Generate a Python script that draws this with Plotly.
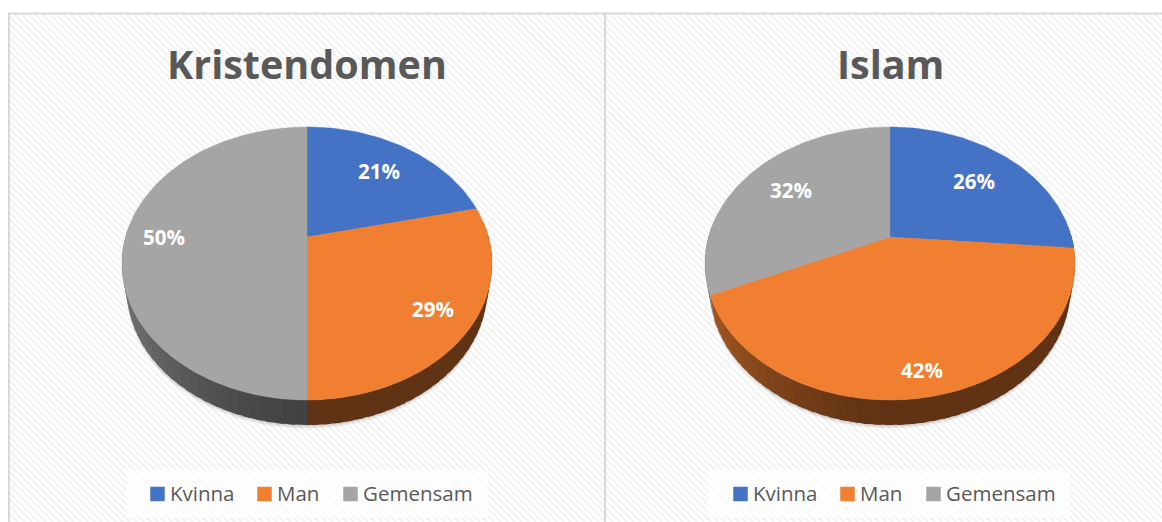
import math
import plotly.graph_objects as go

# ---- data ----
categories = ["Kvinna", "Man", "Gemensam"]
kristendomen_values = [21.4, 28.6, 50.0]
islam_values = [26.3, 42.0, 31.7]
pie_titles = ["Kristendomen", "Islam"]
label_texts_kristendomen = ["21%", "29%", "50%"]
label_texts_islam = ["26%", "42%", "32%"]

# ---- style ----
colors = {"Kvinna": (68, 114, 196), "Man": (240, 127, 49), "Gemensam": (165, 165, 165)}
TEXT = "#595959"
FONT = "Open Sans"
W, H = 1162, 522
CX = [307, 890]           # apex x of each pie
CY = 237                  # apex y
A, B, K = 181.5, 131.4, 0.194   # perspective projection of the tilted disc
DEPTH = 25
LOWER_SCALE = 0.975       # the lower rim is a little narrower than the upper one
LABEL_R = [[0.71, 0.80, 0.79], [0.69, 0.86, 0.70]]
LEGEND_DX = [0, 583]


def project(cx, theta, r=1.0, lower=False, dy=0.0):
    u, v = r * math.sin(theta), r * math.cos(theta)
    w = 1 + K * v
    x, y = A * u / w, CY - B * v / w + dy
    if lower:
        x *= LOWER_SCALE
        y += DEPTH
    return cx + x, y


def hexa(c, f=1.0):
    return "rgb(%d,%d,%d)" % tuple(round(x * f) for x in c)


fig = go.Figure()

# hatched background: clipped diagonal lines
PX0, PY0, PX1, PY1 = 10, 14, W, H
hx, hy = [], []
c = PY0 - PX1
while c < PY1 - PX0:
    x0 = max(PX0, PY0 - c)
    x1 = min(PX1, PY1 - c)
    if x1 > x0:
        hx += [x0, x1, None]
        hy += [x0 + c, x1 + c, None]
    c += 7
fig.add_trace(go.Scatter(x=hx, y=hy, mode="lines", line=dict(color="#f3f3f3", width=2.5),
                         hoverinfo="skip", showlegend=False))

# legend boxes
for x0, x1 in [(127, 488), (708, 1070)]:
    fig.add_trace(go.Scatter(x=[x0, x1, x1, x0, x0], y=[470, 470, 518, 518, 470], mode="lines",
                             fill="toself", fillcolor="rgba(255,255,255,0.75)", line=dict(width=0),
                             hoverinfo="skip", showlegend=False))

annotations = []
for p, (vals, labels) in enumerate([(kristendomen_values, label_texts_kristendomen),
                                    (islam_values, label_texts_islam)]):
    cx = CX[p]
    total = sum(vals)
    # soft shadow under the pie
    for s, op in [(4, 0.03), (3, 0.04), (2, 0.05), (1, 0.06)]:
        pts = [project(cx, 2 * math.pi * i / 180, 1.0, True, s) for i in range(181)]
        fig.add_trace(go.Scatter(x=[q[0] for q in pts], y=[q[1] for q in pts], mode="lines",
                                 fill="toself", fillcolor="rgba(0,0,0,%g)" % op, line=dict(width=0),
                                 hoverinfo="skip", showlegend=False))
    cum = 0
    spans = []
    for name, v in zip(categories, vals):
        spans.append((name, 2 * math.pi * cum / total, 2 * math.pi * (cum + v) / total, v))
        cum += v
    # side wall: overlapping quads, so no seams appear
    for name, t0, t1, v in spans:
        n = max(1, int((t1 - t0) / math.radians(3)))
        step = (t1 - t0) / n
        for i in range(n):
            a0 = t0 + step * i
            a1 = min(t0 + step * (i + 1.6), t1)
            mid = a0 + step / 2
            if math.cos(mid) > 0.1:
                continue
            u = math.sin(mid)
            f = 0.4 if u >= 0 else 0.4 + 0.32 * (-u) ** 1.5
            q0, q1 = project(cx, a0), project(cx, a1)
            q2, q3 = project(cx, a1, 1.0, True), project(cx, a0, 1.0, True)
            col = hexa(colors[name], f)
            fig.add_trace(go.Scatter(x=[q0[0], q1[0], q2[0], q3[0], q0[0]],
                                     y=[q0[1], q1[1], q2[1], q3[1], q0[1]],
                                     mode="lines", fill="toself", fillcolor=col,
                                     line=dict(width=0),
                                     hoverinfo="skip", showlegend=False))
    # top face
    for j, (name, t0, t1, v) in enumerate(spans):
        n = max(2, int((t1 - t0) / math.radians(1.5)))
        pts = [project(cx, t0 + (t1 - t0) * i / n) for i in range(n + 1)]
        xs = [cx] + [q[0] for q in pts] + [cx]
        ys = [CY] + [q[1] for q in pts] + [CY]
        col = hexa(colors[name])
        fig.add_trace(go.Scatter(x=xs, y=ys, mode="lines", fill="toself", fillcolor=col,
                                 line=dict(color=col, width=0.4), name=name,
                                 hovertemplate=name + ": " + labels[j] + "<extra></extra>",
                                 showlegend=False))
        lx, ly = project(cx, (t0 + t1) / 2, LABEL_R[p][j])
        annotations.append(dict(x=lx, y=ly, text="<b>%s</b>" % labels[j], showarrow=False,
                                font=dict(family=FONT, size=20.5, color="white")))
    annotations.append(dict(x=cx, y=64, text="<b>%s</b>" % pie_titles[p], showarrow=False,
                            font=dict(family=FONT, size=39.5, color=TEXT)))
    # legend
    dx = LEGEND_DX[p]
    for name, mx in zip(categories, [157.5, 264.5, 350.5]):
        fig.add_trace(go.Scatter(x=[mx + dx], y=[494], mode="markers",
                                 marker=dict(symbol="square", size=14.5, color=hexa(colors[name])),
                                 hoverinfo="skip", showlegend=False))
        annotations.append(dict(x=mx + dx + 10, y=493, text=name, showarrow=False, xanchor="left",
                                font=dict(family=FONT, size=20.5, color=TEXT)))

shapes = []
for x0, y0, x1, y1 in [(8, 13, 10, H), (8, 12.5, W, 14.5), (604, 13, 606, H)]:
    shapes.append(dict(type="rect", layer="above", x0=x0, x1=x1, y0=y0, y1=y1,
                       fillcolor="#d9d9d9", line=dict(width=0)))

fig.update_layout(
    width=W, height=H, margin=dict(l=0, r=0, t=0, b=0), autosize=False,
    paper_bgcolor="white", plot_bgcolor="white", showlegend=False,
    xaxis=dict(range=[0, W], visible=False, fixedrange=True),
    yaxis=dict(range=[H, 0], visible=False, fixedrange=True),
    annotations=annotations, shapes=shapes,
)
fig.write_html("out.html", config={"displayModeBar": False},
               post_script="document.body.style.margin='0';document.documentElement.style.overflow='hidden';")
